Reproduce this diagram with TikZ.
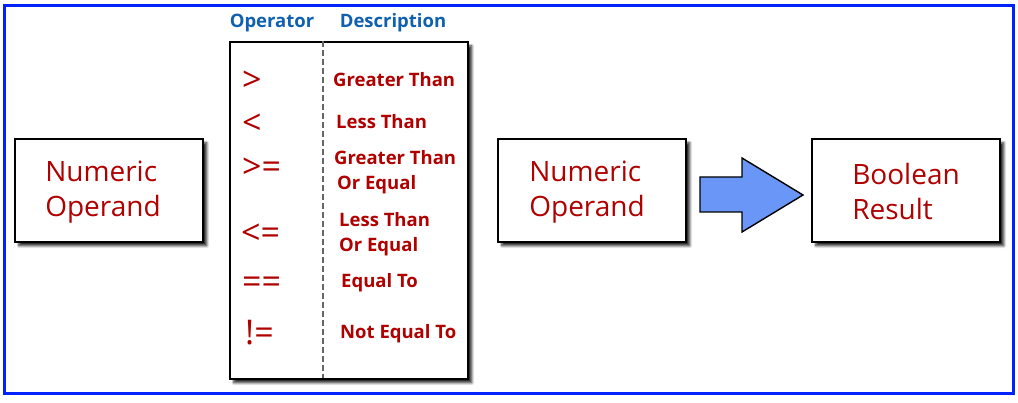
\documentclass[tikz,border=0pt]{standalone}
\usepackage{fontspec}
\setmainfont{Open Sans}
\usetikzlibrary{shadows,shadows.blur}
\definecolor{txtred}{RGB}{176,0,0}
\definecolor{hdrblue}{RGB}{16,96,176}
\definecolor{frameblue}{RGB}{0,34,255}
\definecolor{arrowblue}{RGB}{106,150,248}
\begin{document}
\begin{tikzpicture}[x=1pt,y=-1pt,
  sbox/.style={draw=black, line width=1.6pt, fill=white, anchor=north west,
    blur shadow={shadow xshift=4pt, shadow yshift=-4pt, shadow blur steps=6, shadow blur radius=2.5pt, shadow opacity=85}},
  bigtxt/.style={text=txtred, font=\fontsize{28}{35}\selectfont, align=left, anchor=center},
  optxt/.style={text=txtred, font=\fontsize{34}{34}\selectfont, anchor=base west, inner sep=0pt},
  desctxt/.style={text=txtred, font=\bfseries\fontsize{18.5}{24.5}\selectfont, align=left, anchor=west, inner sep=0pt},
  hdr/.style={text=hdrblue, font=\bfseries\fontsize{18.5}{18.5}\selectfont, anchor=base, inner sep=0pt}]
\useasboundingbox (0,0) rectangle (1018,403);
\draw[frameblue, line width=3pt] (4,6) rectangle (1013,394);

% boxes
\node[sbox, minimum width=188pt, minimum height=103pt] (left) at (14,138) {};
\node[sbox, minimum width=238pt, minimum height=337pt] (table) at (229,41) {};
\node[sbox, minimum width=188pt, minimum height=103pt] (mid) at (497,138) {};
\node[sbox, minimum width=188pt, minimum height=103pt] (res) at (811,138) {};

\node[bigtxt] (lt) at (103,192) {Numeric\\Operand};
\node[bigtxt] (mt) at (587,192) {Numeric\\Operand};
\node[bigtxt] (rt) at (906,192) {Boolean\\Result};

% dashed divider
\coordinate (dtop) at (323,41);
\coordinate (dbot) at (323,378);
\draw[gray!80!black, line width=1.5pt, dash pattern=on 6pt off 3pt] (dtop) -- (dbot);

% headers
\node[hdr] (h1) at (272,28) {Operator};
\node[hdr] (h2) at (393,28) {Description};

% operators
\node[optxt] (o1) at (242,92) {>};
\node[optxt] (o2) at (242,135) {<};
\node[optxt] (o3) at (242,179) {>=};
\node[optxt] (o4) at (241,245) {<=};
\node[optxt] (o5) at (242,294) {==};
\node[optxt] (o6) at (245,345) {!=};

% descriptions
\node[desctxt] (d1) at (333,80) {Greater Than};
\node[desctxt] (d2) at (336,122) {Less Than};
\node[desctxt] (d3) at (334,172) {Greater Than\\\hspace*{3pt}Or Equal};
\node[desctxt] (d4) at (339,234) {Less Than\\Or Equal};
\node[desctxt] (d5) at (341,283) {Equal To};
\node[desctxt] (d6) at (340,334) {Not Equal To};

% arrow
\draw[black, line width=1.4pt, fill=arrowblue, line join=miter]
  (700,177) -- (742,177) -- (742,158) -- (803,195) -- (742,232) -- (742,212) -- (700,212) -- cycle;
\end{tikzpicture}
\end{document}
